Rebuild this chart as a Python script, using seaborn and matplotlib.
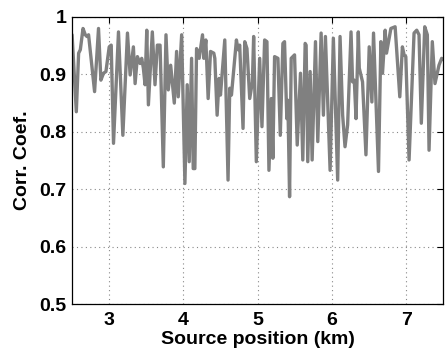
import numpy as np
import pandas as pd
import matplotlib
matplotlib.use("Agg")
import matplotlib.pyplot as plt
import seaborn as sns

# Source position (km) and correlation coefficient
position_km = [
    2.50, 2.557, 2.588, 2.611, 2.647, 2.678, 2.70, 2.722, 2.803, 2.856, 2.888, 2.923, 2.956,
    3.00, 3.027, 3.058, 3.125, 3.184, 3.246, 3.282, 3.326, 3.349, 3.38, 3.416, 3.438, 3.46,
    3.483, 3.506, 3.528, 3.581, 3.617, 3.649, 3.685, 3.729, 3.765, 3.796, 3.828, 3.877,
    3.908, 3.93, 3.976, 4.02, 4.051, 4.078, 4.11, 4.132, 4.154, 4.177, 4.212, 4.257, 4.275,
    4.302, 4.333, 4.365, 4.409, 4.423, 4.454, 4.481, 4.499, 4.557, 4.601, 4.624, 4.647,
    4.714, 4.735, 4.758, 4.803, 4.826, 4.856, 4.893, 4.929, 4.946, 4.982, 5.027, 5.058,
    5.094, 5.125, 5.152, 5.184, 5.205, 5.228, 5.273, 5.305, 5.34, 5.362, 5.393, 5.407,
    5.43, 5.452, 5.497, 5.533, 5.577, 5.608, 5.64, 5.653, 5.675, 5.707, 5.734, 5.779,
    5.81, 5.855, 5.886, 5.913, 5.976, 6.02, 6.078, 6.11, 6.145, 6.177, 6.212, 6.258,
    6.279, 6.302, 6.325, 6.356, 6.369, 6.413, 6.459, 6.503, 6.539, 6.561, 6.628, 6.66,
    6.682, 6.718, 6.736, 6.795, 6.852, 6.915, 6.95, 6.973, 6.996, 7.04, 7.107, 7.143,
    7.174, 7.205, 7.251, 7.286, 7.309, 7.353, 7.389, 7.443, 7.479, 7.51,
]
corr_coef = [
    0.969, 0.835, 0.937, 0.943, 0.980, 0.969, 0.966, 0.969, 0.870, 0.980, 0.890, 0.902, 0.905,
    0.948, 0.951, 0.780, 0.974, 0.794, 0.972, 0.899, 0.948, 0.884, 0.931, 0.919, 0.928, 0.911,
    0.882, 0.977, 0.847, 0.974, 0.882, 0.951, 0.951, 0.739, 0.969, 0.873, 0.916, 0.850,
    0.940, 0.861, 0.969, 0.710, 0.882, 0.748, 0.928, 0.736, 0.736, 0.945, 0.928, 0.969, 0.928,
    0.960, 0.858, 0.940, 0.937, 0.928, 0.829, 0.893, 0.864, 0.960, 0.716, 0.876, 0.864,
    0.960, 0.943, 0.951, 0.806, 0.957, 0.945, 0.858, 0.887, 0.966, 0.748, 0.928, 0.809,
    0.960, 0.957, 0.733, 0.858, 0.754, 0.931, 0.928, 0.794, 0.954, 0.957, 0.823, 0.855,
    0.687, 0.928, 0.934, 0.777, 0.902, 0.751, 0.954, 0.951, 0.748, 0.905, 0.751, 0.957,
    0.783, 0.972, 0.829, 0.966, 0.733, 0.963, 0.716, 0.966, 0.829, 0.774, 0.812, 0.974,
    0.887, 0.890, 0.823, 0.974, 0.911, 0.887, 0.760, 0.948, 0.852, 0.972, 0.731, 0.957,
    0.902, 0.977, 0.937, 0.980, 0.983, 0.861, 0.948, 0.934, 0.931, 0.751, 0.972, 0.977,
    0.969, 0.815, 0.983, 0.969, 0.768, 0.957, 0.884, 0.916, 0.928, 0.925,
]
x_ticks = [3, 4, 5, 6, 7]
y_ticks = [0.5, 0.6, 0.7, 0.8, 0.9, 1.0]
y_tick_labels = ["0.5", "0.6", "0.7", "0.8", "0.9", "1"]

df = pd.DataFrame({"pos": position_km, "cc": corr_coef})

sns.set_style("white")
plt.rcParams["font.family"] = ["Liberation Sans", "DejaVu Sans"]
plt.rcParams["text.color"] = "black"

fig = plt.figure(figsize=(4.45, 3.54), dpi=100)
ax = fig.add_axes([0.162, 0.141, 0.834, 0.811])

sns.lineplot(data=df, x="pos", y="cc", ax=ax, color="#808080", linewidth=2.4,
             estimator=None, sort=False)

ax.set_xlim(2.5, 7.5)
ax.set_ylim(0.5, 1.0)
ax.set_xticks(x_ticks)
ax.set_yticks(y_ticks)
ax.set_yticklabels(y_tick_labels)
ax.grid(True, linestyle=(0, (1, 3)), color="#888888", linewidth=0.8)
ax.tick_params(direction="in", length=4, width=0.8, top=True, right=True,
               labelsize=14, pad=4, colors="black")
ax.tick_params(axis="x", pad=6)
for lbl in ax.get_xticklabels() + ax.get_yticklabels():
    lbl.set_fontweight("bold")
for sp in ax.spines.values():
    sp.set_visible(True)
    sp.set_color("black")
    sp.set_linewidth(0.9)
ax.set_xlabel("Source position (km)", fontsize=14, fontweight="bold", labelpad=1,
              color="black")
ax.set_ylabel("Corr. Coef.", fontsize=14, fontweight="bold", labelpad=6,
              color="black")

fig.savefig("out.png", dpi=100)
